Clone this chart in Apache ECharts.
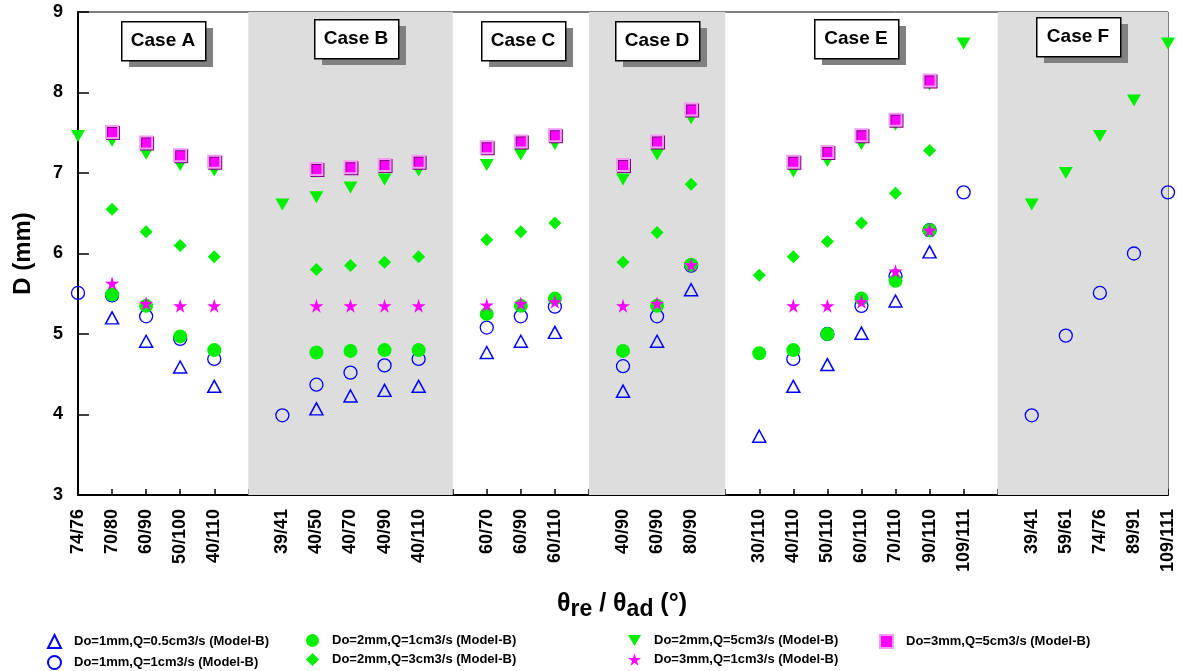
<!DOCTYPE html>
<html>
<head>
<meta charset="utf-8">
<script src="https://cdn.jsdelivr.net/npm/echarts@6/dist/echarts.min.js"></script>
<style>
  html, body { margin: 0; padding: 0; background: #fff; }
  #chart_d { width: 1177px; height: 671px; }
</style>
</head>
<body>
<div id="chart_d"></div>
<script>
  // contact angle pairs, '' = gap between cases
  let categories = ['74/76', '70/80', '60/90', '50/100', '40/110', '',
    '39/41', '40/50', '40/70', '40/90', '40/110', '',
    '60/70', '60/90', '60/110', '',
    '40/90', '60/90', '80/90', '',
    '30/110', '40/110', '50/110', '60/110', '70/110', '90/110', '109/111', '',
    '39/41', '59/61', '74/76', '89/91', '109/111']

  let _ = null
  let do1q05 = [_, 5.20, 4.91, 4.59, 4.35, _, _, 4.07, 4.23, 4.30, 4.35, _, 4.77, 4.91, 5.02, _, 4.29, 4.91, 5.55, _, 3.73, 4.35, 4.62, 5.01, 5.41, 6.02, _, _, _, _, _, _, _]
  let do1q1 = [5.51, 5.48, 5.22, 4.94, 4.69, _, 3.99, 4.37, 4.52, 4.61, 4.69, _, 5.08, 5.22, 5.34, _, 4.60, 5.22, 5.85, _, _, 4.69, 5.00, 5.35, 5.72, 6.29, 6.76, _, 3.99, 4.98, 5.51, 6.00, 6.76]
  let do2q1 = [_, 5.49, 5.35, 4.97, 4.80, _, _, 4.77, 4.79, 4.80, 4.80, _, 5.25, 5.35, 5.44, _, 4.79, 5.35, 5.86, _, 4.76, 4.80, 5.00, 5.44, 5.66, 6.29, _, _, _, _, _, _, _]
  let do2q3 = [_, 6.55, 6.27, 6.10, 5.96, _, _, 5.80, 5.85, 5.89, 5.96, _, 6.17, 6.27, 6.38, _, 5.89, 6.26, 6.86, _, 5.73, 5.96, 6.15, 6.38, 6.75, 7.28, _, _, _, _, _, _, _]
  let do2q5 = [7.46, 7.40, 7.24, 7.10, 7.03, _, 6.61, 6.70, 6.82, 6.92, 7.03, _, 7.10, 7.23, 7.36, _, 6.92, 7.23, 7.68, _, _, 7.02, 7.15, 7.36, 7.60, 8.10, 8.61, _, 6.61, 7.00, 7.46, 7.90, 8.61]
  let do3q1 = [_, 5.63, 5.38, 5.35, 5.35, _, _, 5.35, 5.35, 5.35, 5.35, _, 5.36, 5.38, 5.40, _, 5.35, 5.38, 5.86, _, _, 5.35, 5.35, 5.40, 5.78, 6.29, _, _, _, _, _, _, _]
  let do3q5 = [_, 7.51, 7.38, 7.22, 7.14, _, _, 7.05, 7.07, 7.10, 7.14, _, 7.32, 7.39, 7.47, _, 7.10, 7.39, 7.79, _, _, 7.14, 7.26, 7.47, 7.66, 8.15, _, _, _, _, _, _, _]

  let yTicks = [3, 4, 5, 6, 7, 8, 9]
  // shaded cases B, D, F as category index ranges
  let shaded = [[5, 11], [15, 19], [27, 32]]
  let caseNames = ['Case A', 'Case B', 'Case C', 'Case D', 'Case E', 'Case F']

  let names = [
    'Do=1mm,Q=0.5cm3/s (Model-B)',
    'Do=1mm,Q=1cm3/s (Model-B)',
    'Do=2mm,Q=1cm3/s (Model-B)',
    'Do=2mm,Q=3cm3/s (Model-B)',
    'Do=2mm,Q=5cm3/s (Model-B)',
    'Do=3mm,Q=1cm3/s (Model-B)',
    'Do=3mm,Q=5cm3/s (Model-B)'
  ]

  const BLUE = '#0000ff'
  const GREEN = '#00ee00'
  const MAG = '#ff00ff'
  const STAR = 'path://M50,0 L61,35 L98,35 L68,57 L79,91 L50,70 L21,91 L32,57 L2,35 L39,35 Z'
  const TRI_DOWN = 'path://M0,0 L14,0 L7,12 Z'
  const FONT = 'Liberation Sans, Arial, sans-serif'

  let chart = echarts.init(document.getElementById('chart_d'))

  // case label boxes (annotation, pixel placed)
  let boxes = [[121, 21], [314, 19], [481, 21], [615, 21], [814, 19], [1036, 17]]
  let graphics = []
  boxes.forEach(function (b, i) {
    graphics.push({ type: 'rect', left: b[0] + 8, top: b[1] + 7, z: 10,
      shape: { width: 84, height: 39 }, style: { fill: '#808080' } })
    graphics.push({ type: 'rect', left: b[0], top: b[1], z: 11,
      shape: { width: 84, height: 39 }, style: { fill: '#fff', stroke: '#000', lineWidth: 1.5 } })
    graphics.push({ type: 'text', x: b[0] + 42, y: b[1] + 20, z: 12,
      style: { text: caseNames[i], fill: '#000', font: 'bold 19px ' + FONT, align: 'center', verticalAlign: 'middle' } })
  })
  graphics.push({
    type: 'text', x: 622, y: 604, z: 12,
    style: {
      text: '{t|θ}{s|re}{t| / θ}{s|ad}{t| (°)}',
      align: 'center', verticalAlign: 'middle',
      rich: {
        t: { fontSize: 25, fontWeight: 'bold', fontFamily: FONT, fill: '#000' },
        s: { fontSize: 23, fontWeight: 'bold', fontFamily: FONT, fill: '#000', padding: [12, 0, 0, 0] }
      }
    }
  })

  function legendCol (left, items) {
    return {
      data: items,
      orient: 'vertical',
      left: left,
      top: 634,
      padding: 0,
      itemWidth: 13,
      itemHeight: 13,
      itemGap: 6,
      textStyle: { fontSize: 13, fontWeight: 'bold', fontFamily: FONT, color: '#000', padding: [0, 0, 0, 8] }
    }
  }

  let options = {
    animation: false,
    backgroundColor: '#fff',
    grid: { left: 78, right: 9, top: 12, bottom: 176, show: true, borderColor: '#000', borderWidth: 1 },
    legend: [
      legendCol(47, [names[0], names[1]]),
      legendCol(306, [names[2], names[3]]),
      legendCol(628, [{ name: names[4], icon: TRI_DOWN }, names[5]]),
      legendCol(879, [names[6]])
    ],
    xAxis: {
      type: 'category',
      data: categories,
      boundaryGap: false,
      axisLine: { lineStyle: { color: '#000', width: 2 } },
      axisTick: { inside: true, length: 6, interval: 0, lineStyle: { color: '#000', width: 1.5 } },
      axisLabel: { interval: 0, rotate: 90, margin: 14, fontSize: 18, fontWeight: 'bold', fontFamily: FONT, color: '#000' },
      splitLine: { show: false }
    },
    yAxis: {
      type: 'value',
      min: yTicks[0],
      max: yTicks[yTicks.length - 1],
      interval: 1,
      name: 'D (mm)',
      nameLocation: 'middle',
      nameGap: 43,
      nameTextStyle: { fontSize: 24, fontWeight: 'bold', fontFamily: FONT, color: '#000' },
      axisLine: { show: true, lineStyle: { color: '#000', width: 2 } },
      axisTick: { show: true, inside: true, length: 11, lineStyle: { color: '#000', width: 1.5 } },
      axisLabel: { margin: 15, fontSize: 18, fontWeight: 'bold', fontFamily: FONT, color: '#000' },
      splitLine: { show: false }
    },
    graphic: graphics,
    series: [
      {
        name: names[0], type: 'scatter', data: do1q05,
        symbol: 'triangle', symbolSize: [13, 12],
        itemStyle: { color: 'rgba(0,0,0,0)', borderColor: BLUE, borderWidth: 1.5, opacity: 1 },
        markArea: {
          silent: true,
          itemStyle: { color: '#dddddd', opacity: 1 },
          data: shaded.map(function (r) { return [{ xAxis: r[0] }, { xAxis: r[1] }] })
        }
      },
      {
        name: names[1], type: 'scatter', data: do1q1,
        symbol: 'circle', symbolSize: 13,
        itemStyle: { color: 'rgba(0,0,0,0)', borderColor: BLUE, borderWidth: 1.3, opacity: 1 }
      },
      {
        name: names[2], type: 'scatter', data: do2q1,
        symbol: 'circle', symbolSize: 14,
        itemStyle: { color: GREEN, opacity: 1 }
      },
      {
        name: names[3], type: 'scatter', data: do2q3,
        symbol: 'diamond', symbolSize: 13,
        itemStyle: { color: GREEN, opacity: 1 }
      },
      {
        name: names[4], type: 'scatter', data: do2q5,
        symbol: 'triangle', symbolRotate: 180, symbolSize: [14, 12],
        itemStyle: { color: GREEN, opacity: 1 }
      },
      {
        name: names[5], type: 'scatter', data: do3q1,
        symbol: STAR, symbolSize: 14,
        itemStyle: { color: MAG, opacity: 1 }
      },
      {
        name: names[6], type: 'scatter', data: do3q5,
        symbol: 'rect', symbolSize: 12,
        itemStyle: { color: MAG, borderColor: '#f59af5', borderWidth: 2, shadowColor: '#800080', shadowOffsetX: 1, shadowOffsetY: 1, shadowBlur: 0, opacity: 1 }
      }
    ]
  }
  chart.setOption(options)
</script>
</body>
</html>
